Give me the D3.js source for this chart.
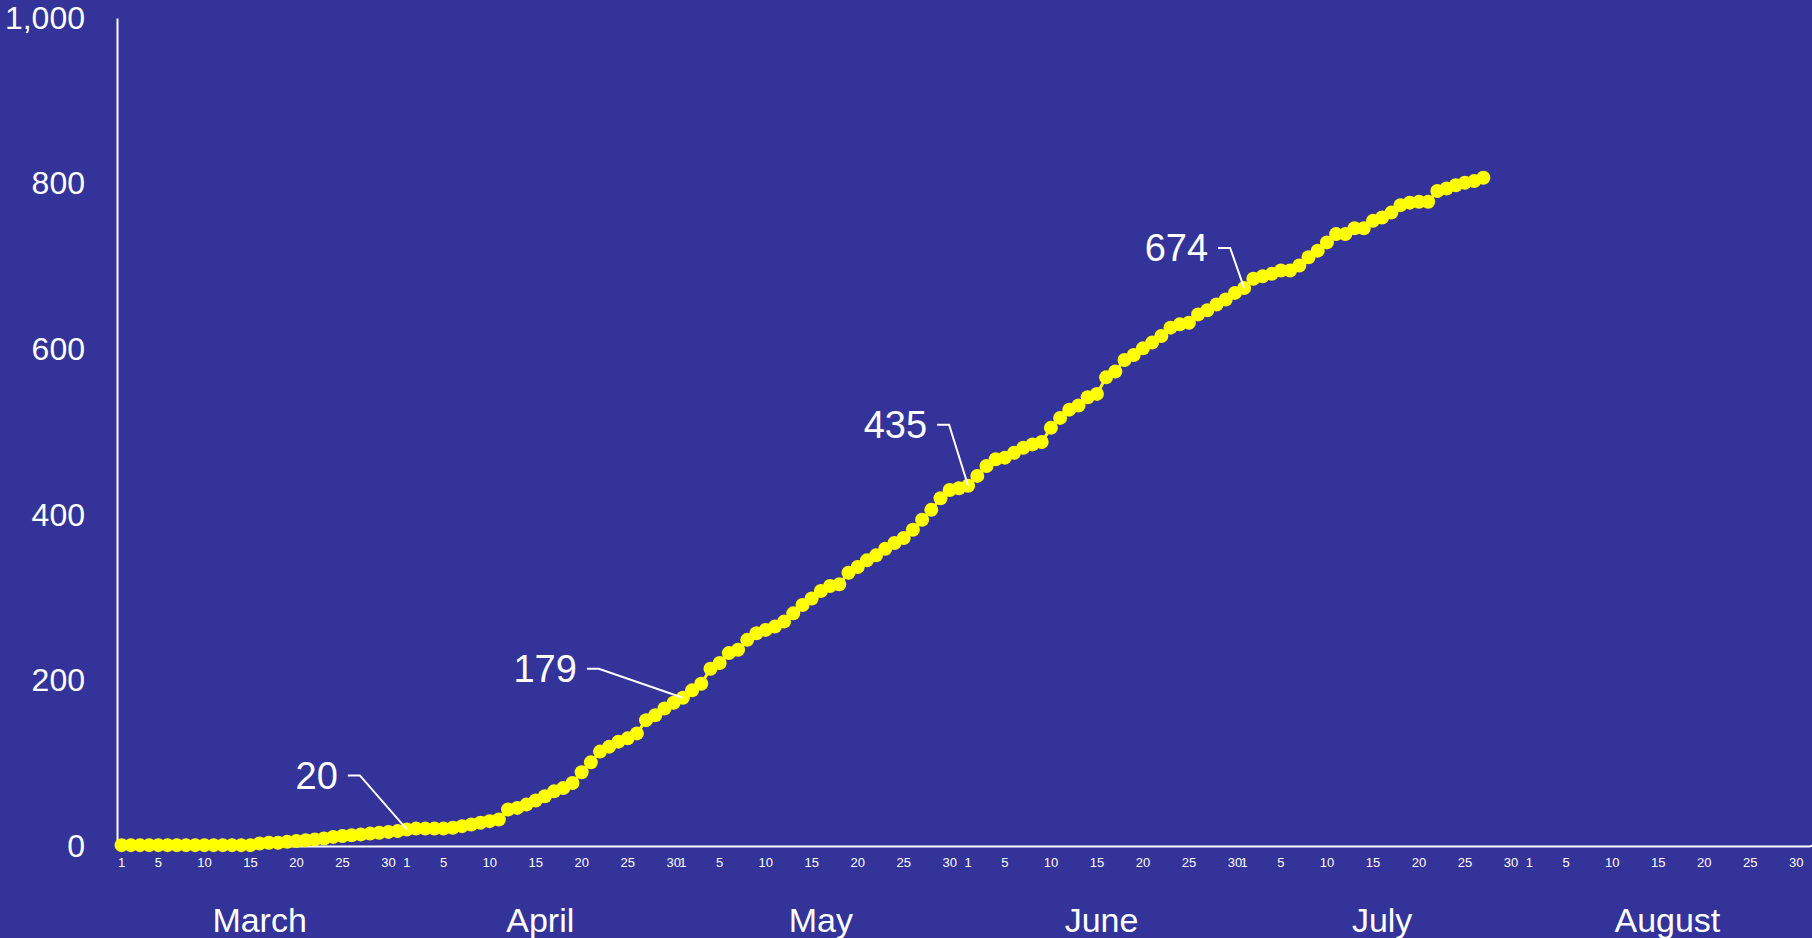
<!DOCTYPE html>
<html>
<head>
<meta charset="utf-8">
<script src="https://cdn.jsdelivr.net/npm/d3@7"></script>
<style>
  html, body { margin: 0; padding: 0; background: #333399; overflow: hidden; }
  svg { display: block; font-family: "Liberation Sans", Arial, sans-serif; }
</style>
</head>
<body>
<svg id="chart" width="1812" height="938"></svg>
<script>
// categories
const months = ['March', 'April', 'May', 'June', 'July', 'August'];
const monthLengths = [31, 30, 31, 30, 31, 31];
const dayTicks = [1, 5, 10, 15, 20, 25, 30];
const yTicks = [0, 200, 400, 600, 800, 1000];

// cumulative daily values, one array per month
const march = [1, 1, 1, 1, 1, 1, 1, 1, 1, 1, 1, 1, 1, 1, 1, 3, 4, 4, 5, 6, 7, 8, 9, 11, 12, 13, 14, 15, 16, 17, 18];
const april = [20, 21, 21, 21, 21, 22, 24, 26, 28, 30, 32, 44, 46, 50, 55, 60, 66, 70, 76, 89, 101, 114, 120, 126, 130, 136, 152, 158, 166, 173];
const may = [179, 188, 196, 214, 221, 233, 237, 249, 257, 261, 265, 271, 281, 291, 299, 308, 314, 316, 330, 337, 345, 351, 359, 366, 372, 382, 394, 406, 420, 430, 432];
const june = [435, 447, 459, 467, 469, 475, 481, 485, 488, 505, 517, 527, 532, 542, 546, 566, 573, 587, 593, 601, 608, 616, 626, 630, 632, 642, 647, 654, 660, 668];
const july = [674, 685, 688, 691, 695, 695, 701, 711, 719, 729, 739, 739, 746, 746, 755, 759, 765, 774, 777, 778, 778, 791, 794, 798, 801, 803, 807];

// labelled points (first of each month) and where their labels sit
const callouts = ['April 1', 'May 1', 'June 1', 'July 1'];
const calloutOffsets = [[-47, -54], [-84, -29], [-19, -61], [-14, -40]];

const svg = d3.select('#chart');
const width = +svg.attr('width');
const margin = {top: 18, left: 117, bottom: 92, right: 2};
const baseY = +svg.attr('height') - margin.bottom;

const days = [];
months.forEach((m, i) => {
    for (let d = 1; d <= monthLengths[i]; d++) days.push({month: m, day: d, key: m + ' ' + d});
});
const data = [];
[march, april, may, june, july].forEach((vals, i) => {
    vals.forEach((v, j) => data.push({key: months[i] + ' ' + (j + 1), value: v}));
});

const xScale = d3.scaleBand()
    .domain(days.map(d => d.key))
    .range([margin.left, width - margin.right]);
const yScale = d3.scaleLinear().domain([0, 1000]).range([baseY, margin.top]);
const bw = xScale.bandwidth();
const xPos = k => xScale(k) + bw / 2;

// x axis with day numbers
const xAxisG = svg.append('g')
    .attr('transform', `translate(0, ${baseY})`)
    .call(d3.axisBottom(xScale)
        .tickValues(days.filter(d => dayTicks.includes(d.day)).map(d => d.key))
        .tickFormat(k => k.split(' ')[1])
        .tickSize(0)
        .tickPadding(12));
xAxisG.select('.domain').attr('stroke', '#fff').attr('stroke-width', 2);
xAxisG.selectAll('text').attr('fill', '#fff').attr('font-size', 13)
    .attr('font-family', '"Liberation Sans", Arial, sans-serif');
svg.append('line')
    .attr('x1', width - margin.right).attr('x2', width)
    .attr('y1', baseY).attr('y2', baseY)
    .attr('stroke', '#fff').attr('stroke-width', 2);

// month names
let start = 0;
months.forEach((m, i) => {
    const x0 = xScale(days[start].key);
    svg.append('text')
        .attr('x', x0 + monthLengths[i] * bw / 2)
        .attr('y', 932)
        .attr('text-anchor', 'middle')
        .attr('fill', '#fff')
        .attr('font-size', 34)
        .text(m);
    start += monthLengths[i];
});

// y axis
const yAxisG = svg.append('g')
    .attr('transform', `translate(${margin.left}, 0)`)
    .call(d3.axisLeft(yScale)
        .tickValues(yTicks)
        .tickFormat(d3.format(','))
        .tickSize(0)
        .tickPadding(32));
yAxisG.select('.domain').attr('stroke', '#fff').attr('stroke-width', 2);
yAxisG.selectAll('text').attr('fill', '#fff').attr('font-size', 32)
    .attr('font-family', '"Liberation Sans", Arial, sans-serif');

// series
const lineGenerator = d3.line()
    .x(d => xPos(d.key))
    .y(d => yScale(d.value));
svg.append('path')
    .datum(data)
    .attr('d', lineGenerator)
    .attr('fill', 'none')
    .attr('stroke', '#ffff00')
    .attr('stroke-width', 3);
svg.append('g').selectAll('circle')
    .data(data)
    .enter().append('circle')
    .attr('cx', d => xPos(d.key))
    .attr('cy', d => yScale(d.value))
    .attr('r', 7)
    .attr('fill', '#ffff00');

// callouts
callouts.forEach((k, i) => {
    const d = data.find(p => p.key === k);
    const px = xPos(d.key), py = yScale(d.value);
    const ex = px + calloutOffsets[i][0], ey = py + calloutOffsets[i][1];
    svg.append('path')
        .attr('d', `M${ex - 12},${ey}H${ex}L${px},${py}`)
        .attr('fill', 'none')
        .attr('stroke', '#fff')
        .attr('stroke-width', 2);
    svg.append('text')
        .attr('x', ex - 22)
        .attr('y', ey)
        .attr('dy', '0.35em')
        .attr('text-anchor', 'end')
        .attr('fill', '#fff')
        .attr('font-size', 38)
        .text(d3.format(',')(d.value));
});
</script>
</body>
</html>
